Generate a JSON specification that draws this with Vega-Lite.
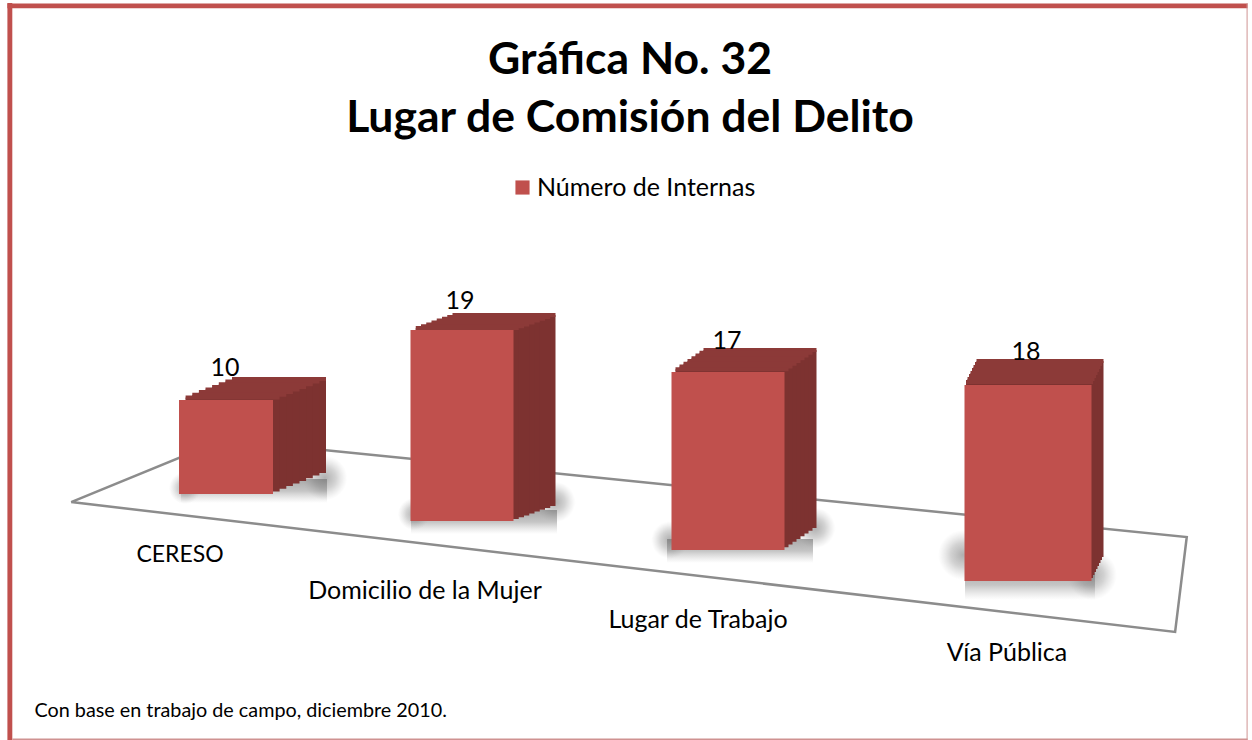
{"$schema":"https://vega.github.io/schema/vega-lite/v6.json","width":1252,"height":740,"padding":0,"autosize":{"type":"none"},"background":"white","view":{"stroke":null},"config":{"font":"Lato"},
"title":{"text":["Gráfica No. 32","Lugar de Comisión del Delito"],"font":"Lato","fontSize":44.5,"fontWeight":"bold","color":"#000","anchor":"middle","frame":"group","baseline":"top","offset":0,"dy":141,"dx":4,"lineHeight":58},
"data":{"values":[{"orden":1,"lugar":"CERESO","internas":10},{"orden":2,"lugar":"Domicilio de la Mujer","internas":19},{"orden":3,"lugar":"Lugar de Trabajo","internas":17},{"orden":4,"lugar":"Vía Pública","internas":18}]},
"encoding":{"x":{"field":"orden","type":"quantitative","scale":{"domain":[0,1,2,3,4,5],"range":[0,226,462,728,1028,1252]},"axis":{"domain":false,"ticks":false,"labels":false,"grid":false,"title":"Con base en trabajo de campo, diciembre 2010.","titleX":34,"titleY":-30,"titleAlign":"left","titleBaseline":"middle","titleFont":"Lato","titleFontSize":19.8,"titleFontWeight":"normal","titleColor":"#000"}}},
"layer":[
{"layer":[
{"data":{"values":[{"punto":1,"px":0.301,"py":-0.85},{"punto":2,"px":4.67,"py":-13.49},{"punto":3,"px":4.723,"py":-4.25},{"punto":4,"px":0.987,"py":5.2},{"punto":5,"px":0.301,"py":-0.85}]},"mark":{"type":"line","stroke":"#8C8C8C","strokeWidth":2.5},"encoding":{"x":{"field":"px","type":"quantitative"},"y":{"field":"py","type":"quantitative","axis":null,"scale":{"domain":[-24,48],"range":[740,0],"zero":false,"nice":false}},"order":{"field":"punto","type":"quantitative"}}},
{"data":{"values":[{"x0":0.0133,"x1":0.0354,"y0":47.7,"y1":-24},{"x0":0.0133,"x1":5,"y0":47.65,"y1":47.2}]},"mark":{"type":"rect","color":"#C0504D"},"encoding":{"x":{"field":"x0","type":"quantitative"},"x2":{"field":"x1"},"y":{"field":"y0","type":"quantitative"},"y2":{"field":"y1"}}},
{"data":{"values":[{"x0":4.9955,"x1":5,"y0":47.7,"y1":-24},{"x0":0.0354,"x1":5,"y0":-23.86,"y1":-24}]},"mark":{"type":"rect","color":"#CF9291"},"encoding":{"x":{"field":"x0","type":"quantitative"},"x2":{"field":"x1"},"y":{"field":"y0","type":"quantitative"},"y2":{"field":"y1"}}}
]},
{"transform":[{"filter":"datum.orden==1"}],"encoding":{"y":{"field":"internas","type":"quantitative","axis":null,"scale":{"domain":[0,10],"range":[494,400],"zero":false,"nice":false}}},"layer":[
{"mark":{"type":"tick","orient":"horizontal","opacity":1,"color":{"gradient":"linear","x1":0,"y1":0,"x2":0,"y2":1,"stops":[{"offset":0,"color":"rgba(110,110,110,0.6)"},{"offset":0.5,"color":"rgba(110,110,110,0.4)"},{"offset":1,"color":"rgba(150,150,150,0)"}]},"size":146,"thickness":24,"xOffset":28,"yOffset":-3},"encoding":{"y":{"datum":0}}},
{"mark":{"type":"point","shape":"circle","filled":true,"opacity":1,"fill":{"gradient":"radial","stops":[{"offset":0,"color":"rgba(110,110,110,0.55)"},{"offset":0.5,"color":"rgba(110,110,110,0.3)"},{"offset":1,"color":"rgba(150,150,150,0)"}]},"size":1018,"xOffset":-41,"yOffset":-6},"encoding":{"y":{"datum":0}}},
{"mark":{"type":"point","shape":"circle","filled":true,"opacity":1,"fill":{"gradient":"radial","stops":[{"offset":0,"color":"rgba(110,110,110,0.55)"},{"offset":0.5,"color":"rgba(110,110,110,0.3)"},{"offset":1,"color":"rgba(150,150,150,0)"}]},"size":1963,"xOffset":99,"yOffset":-16},"encoding":{"y":{"datum":0}}},
{"mark":{"type":"bar","fill":"#7D3230","width":94,"xOffset":53,"yOffset":-21,"y2Offset":-21}},{"mark":{"type":"tick","orient":"horizontal","color":"#8C3A38","opacity":1,"size":94,"thickness":4,"xOffset":53,"yOffset":-21}},
{"mark":{"type":"bar","fill":"#7D3230","width":94,"xOffset":46.4,"yOffset":-18.4,"y2Offset":-18.4}},{"mark":{"type":"tick","orient":"horizontal","color":"#8C3A38","opacity":1,"size":94,"thickness":4,"xOffset":46.4,"yOffset":-18.4}},
{"mark":{"type":"bar","fill":"#7D3230","width":94,"xOffset":39.8,"yOffset":-15.8,"y2Offset":-15.8}},{"mark":{"type":"tick","orient":"horizontal","color":"#8C3A38","opacity":1,"size":94,"thickness":4,"xOffset":39.8,"yOffset":-15.8}},
{"mark":{"type":"bar","fill":"#7D3230","width":94,"xOffset":33.1,"yOffset":-13.1,"y2Offset":-13.1}},{"mark":{"type":"tick","orient":"horizontal","color":"#8C3A38","opacity":1,"size":94,"thickness":4,"xOffset":33.1,"yOffset":-13.1}},
{"mark":{"type":"bar","fill":"#7D3230","width":94,"xOffset":26.5,"yOffset":-10.5,"y2Offset":-10.5}},{"mark":{"type":"tick","orient":"horizontal","color":"#8C3A38","opacity":1,"size":94,"thickness":4,"xOffset":26.5,"yOffset":-10.5}},
{"mark":{"type":"bar","fill":"#7D3230","width":94,"xOffset":19.9,"yOffset":-7.9,"y2Offset":-7.9}},{"mark":{"type":"tick","orient":"horizontal","color":"#8C3A38","opacity":1,"size":94,"thickness":4,"xOffset":19.9,"yOffset":-7.9}},
{"mark":{"type":"bar","fill":"#7D3230","width":94,"xOffset":13.3,"yOffset":-5.3,"y2Offset":-5.3}},{"mark":{"type":"tick","orient":"horizontal","color":"#8C3A38","opacity":1,"size":94,"thickness":4,"xOffset":13.3,"yOffset":-5.3}},
{"mark":{"type":"bar","fill":"#7D3230","width":94,"xOffset":6.6,"yOffset":-2.6,"y2Offset":-2.6}},{"mark":{"type":"tick","orient":"horizontal","color":"#8C3A38","opacity":1,"size":94,"thickness":4,"xOffset":6.6,"yOffset":-2.6}},
{"mark":{"type":"bar","width":94},"encoding":{"color":{"datum":"Número de Internas","type":"nominal","scale":{"range":["#C0504D"]},"legend":{"orient":"none","legendX":510,"legendY":175,"title":null,"symbolType":"square","symbolSize":200,"symbolStrokeWidth":0,"labelFont":"Lato","labelFontSize":25,"labelColor":"#000","labelLimit":400,"labelOffset":2}}}},
{"mark":{"type":"text","fontSize":25,"font":"Lato","color":"#000","baseline":"middle","dx":-1,"dy":-32},"encoding":{"text":{"field":"internas","type":"quantitative"}}},
{"mark":{"type":"text","fontSize":23,"font":"Lato","color":"#000","baseline":"middle","dx":-46,"dy":61},"encoding":{"y":{"datum":0},"text":{"field":"lugar","type":"nominal"}}}
]},
{"transform":[{"filter":"datum.orden==2"}],"encoding":{"y":{"field":"internas","type":"quantitative","axis":null,"scale":{"domain":[0,19],"range":[521,330],"zero":false,"nice":false}}},"layer":[
{"mark":{"type":"tick","orient":"horizontal","opacity":1,"color":{"gradient":"linear","x1":0,"y1":0,"x2":0,"y2":1,"stops":[{"offset":0,"color":"rgba(110,110,110,0.6)"},{"offset":0.5,"color":"rgba(110,110,110,0.4)"},{"offset":1,"color":"rgba(150,150,150,0)"}]},"size":146,"thickness":24,"xOffset":22,"yOffset":1},"encoding":{"y":{"datum":0}}},
{"mark":{"type":"point","shape":"circle","filled":true,"opacity":1,"fill":{"gradient":"radial","stops":[{"offset":0,"color":"rgba(110,110,110,0.55)"},{"offset":0.5,"color":"rgba(110,110,110,0.3)"},{"offset":1,"color":"rgba(150,150,150,0)"}]},"size":1018,"xOffset":-48,"yOffset":-7},"encoding":{"y":{"datum":0}}},
{"mark":{"type":"point","shape":"circle","filled":true,"opacity":1,"fill":{"gradient":"radial","stops":[{"offset":0,"color":"rgba(110,110,110,0.55)"},{"offset":0.5,"color":"rgba(110,110,110,0.3)"},{"offset":1,"color":"rgba(150,150,150,0)"}]},"size":1662,"xOffset":93,"yOffset":-19},"encoding":{"y":{"datum":0}}},
{"mark":{"type":"bar","fill":"#7D3230","width":103,"xOffset":42,"yOffset":-15,"y2Offset":-15}},{"mark":{"type":"tick","orient":"horizontal","color":"#8C3A38","opacity":1,"size":103,"thickness":4,"xOffset":42,"yOffset":-15}},
{"mark":{"type":"bar","fill":"#7D3230","width":103,"xOffset":36.75,"yOffset":-13.1,"y2Offset":-13.1}},{"mark":{"type":"tick","orient":"horizontal","color":"#8C3A38","opacity":1,"size":103,"thickness":4,"xOffset":36.75,"yOffset":-13.1}},
{"mark":{"type":"bar","fill":"#7D3230","width":103,"xOffset":31.5,"yOffset":-11.3,"y2Offset":-11.3}},{"mark":{"type":"tick","orient":"horizontal","color":"#8C3A38","opacity":1,"size":103,"thickness":4,"xOffset":31.5,"yOffset":-11.3}},
{"mark":{"type":"bar","fill":"#7D3230","width":103,"xOffset":26.25,"yOffset":-9.4,"y2Offset":-9.4}},{"mark":{"type":"tick","orient":"horizontal","color":"#8C3A38","opacity":1,"size":103,"thickness":4,"xOffset":26.25,"yOffset":-9.4}},
{"mark":{"type":"bar","fill":"#7D3230","width":103,"xOffset":21,"yOffset":-7.5,"y2Offset":-7.5}},{"mark":{"type":"tick","orient":"horizontal","color":"#8C3A38","opacity":1,"size":103,"thickness":4,"xOffset":21,"yOffset":-7.5}},
{"mark":{"type":"bar","fill":"#7D3230","width":103,"xOffset":15.75,"yOffset":-5.6,"y2Offset":-5.6}},{"mark":{"type":"tick","orient":"horizontal","color":"#8C3A38","opacity":1,"size":103,"thickness":4,"xOffset":15.75,"yOffset":-5.6}},
{"mark":{"type":"bar","fill":"#7D3230","width":103,"xOffset":10.5,"yOffset":-3.8,"y2Offset":-3.8}},{"mark":{"type":"tick","orient":"horizontal","color":"#8C3A38","opacity":1,"size":103,"thickness":4,"xOffset":10.5,"yOffset":-3.8}},
{"mark":{"type":"bar","fill":"#7D3230","width":103,"xOffset":5.25,"yOffset":-1.9,"y2Offset":-1.9}},{"mark":{"type":"tick","orient":"horizontal","color":"#8C3A38","opacity":1,"size":103,"thickness":4,"xOffset":5.25,"yOffset":-1.9}},
{"mark":{"type":"bar","fill":"#C0504D","width":103}},
{"mark":{"type":"text","fontSize":25,"font":"Lato","color":"#000","baseline":"middle","dx":-2,"dy":-29},"encoding":{"text":{"field":"internas","type":"quantitative"}}},
{"mark":{"type":"text","fontSize":25,"font":"Lato","color":"#000","baseline":"middle","dx":-37,"dy":70},"encoding":{"y":{"datum":0},"text":{"field":"lugar","type":"nominal"}}}
]},
{"transform":[{"filter":"datum.orden==3"}],"encoding":{"y":{"field":"internas","type":"quantitative","axis":null,"scale":{"domain":[0,17],"range":[550,372],"zero":false,"nice":false}}},"layer":[
{"mark":{"type":"tick","orient":"horizontal","opacity":1,"color":{"gradient":"linear","x1":0,"y1":0,"x2":0,"y2":1,"stops":[{"offset":0,"color":"rgba(110,110,110,0.6)"},{"offset":0.5,"color":"rgba(110,110,110,0.4)"},{"offset":1,"color":"rgba(150,150,150,0)"}]},"size":146,"thickness":24,"xOffset":12,"yOffset":1},"encoding":{"y":{"datum":0}}},
{"mark":{"type":"point","shape":"circle","filled":true,"opacity":1,"fill":{"gradient":"radial","stops":[{"offset":0,"color":"rgba(110,110,110,0.55)"},{"offset":0.5,"color":"rgba(110,110,110,0.3)"},{"offset":1,"color":"rgba(150,150,150,0)"}]},"size":1385,"xOffset":-58,"yOffset":-10},"encoding":{"y":{"datum":0}}},
{"mark":{"type":"point","shape":"circle","filled":true,"opacity":1,"fill":{"gradient":"radial","stops":[{"offset":0,"color":"rgba(110,110,110,0.55)"},{"offset":0.5,"color":"rgba(110,110,110,0.3)"},{"offset":1,"color":"rgba(150,150,150,0)"}]},"size":1662,"xOffset":87,"yOffset":-22},"encoding":{"y":{"datum":0}}},
{"mark":{"type":"bar","fill":"#7D3230","width":113,"xOffset":32,"yOffset":-22,"y2Offset":-22}},{"mark":{"type":"tick","orient":"horizontal","color":"#8C3A38","opacity":1,"size":113,"thickness":4,"xOffset":32,"yOffset":-22}},
{"mark":{"type":"bar","fill":"#7D3230","width":113,"xOffset":28,"yOffset":-19.25,"y2Offset":-19.25}},{"mark":{"type":"tick","orient":"horizontal","color":"#8C3A38","opacity":1,"size":113,"thickness":4,"xOffset":28,"yOffset":-19.25}},
{"mark":{"type":"bar","fill":"#7D3230","width":113,"xOffset":24,"yOffset":-16.5,"y2Offset":-16.5}},{"mark":{"type":"tick","orient":"horizontal","color":"#8C3A38","opacity":1,"size":113,"thickness":4,"xOffset":24,"yOffset":-16.5}},
{"mark":{"type":"bar","fill":"#7D3230","width":113,"xOffset":20,"yOffset":-13.75,"y2Offset":-13.75}},{"mark":{"type":"tick","orient":"horizontal","color":"#8C3A38","opacity":1,"size":113,"thickness":4,"xOffset":20,"yOffset":-13.75}},
{"mark":{"type":"bar","fill":"#7D3230","width":113,"xOffset":16,"yOffset":-11,"y2Offset":-11}},{"mark":{"type":"tick","orient":"horizontal","color":"#8C3A38","opacity":1,"size":113,"thickness":4,"xOffset":16,"yOffset":-11}},
{"mark":{"type":"bar","fill":"#7D3230","width":113,"xOffset":12,"yOffset":-8.25,"y2Offset":-8.25}},{"mark":{"type":"tick","orient":"horizontal","color":"#8C3A38","opacity":1,"size":113,"thickness":4,"xOffset":12,"yOffset":-8.25}},
{"mark":{"type":"bar","fill":"#7D3230","width":113,"xOffset":8,"yOffset":-5.5,"y2Offset":-5.5}},{"mark":{"type":"tick","orient":"horizontal","color":"#8C3A38","opacity":1,"size":113,"thickness":4,"xOffset":8,"yOffset":-5.5}},
{"mark":{"type":"bar","fill":"#7D3230","width":113,"xOffset":4,"yOffset":-2.75,"y2Offset":-2.75}},{"mark":{"type":"tick","orient":"horizontal","color":"#8C3A38","opacity":1,"size":113,"thickness":4,"xOffset":4,"yOffset":-2.75}},
{"mark":{"type":"bar","fill":"#C0504D","width":113}},
{"mark":{"type":"text","fontSize":25,"font":"Lato","color":"#000","baseline":"middle","dx":-1,"dy":-31},"encoding":{"text":{"field":"internas","type":"quantitative"}}},
{"mark":{"type":"text","fontSize":25,"font":"Lato","color":"#000","baseline":"middle","dx":-30,"dy":70},"encoding":{"y":{"datum":0},"text":{"field":"lugar","type":"nominal"}}}
]},
{"transform":[{"filter":"datum.orden==4"}],"encoding":{"y":{"field":"internas","type":"quantitative","axis":null,"scale":{"domain":[0,18],"range":[581,385],"zero":false,"nice":false}}},"layer":[
{"mark":{"type":"tick","orient":"horizontal","opacity":1,"color":{"gradient":"linear","x1":0,"y1":0,"x2":0,"y2":1,"stops":[{"offset":0,"color":"rgba(110,110,110,0.6)"},{"offset":0.5,"color":"rgba(110,110,110,0.4)"},{"offset":1,"color":"rgba(150,150,150,0)"}]},"size":130,"thickness":30,"xOffset":2,"yOffset":4},"encoding":{"y":{"datum":0}}},
{"mark":{"type":"point","shape":"circle","filled":true,"opacity":1,"fill":{"gradient":"radial","stops":[{"offset":0,"color":"rgba(110,110,110,0.55)"},{"offset":0.5,"color":"rgba(110,110,110,0.3)"},{"offset":1,"color":"rgba(150,150,150,0)"}]},"size":2463,"xOffset":-65,"yOffset":-26},"encoding":{"y":{"datum":0}}},
{"mark":{"type":"point","shape":"circle","filled":true,"opacity":1,"fill":{"gradient":"radial","stops":[{"offset":0,"color":"rgba(110,110,110,0.55)"},{"offset":0.5,"color":"rgba(110,110,110,0.3)"},{"offset":1,"color":"rgba(150,150,150,0)"}]},"size":2463,"xOffset":64,"yOffset":-6},"encoding":{"y":{"datum":0}}},
{"mark":{"type":"bar","fill":"#7D3230","width":127,"xOffset":12,"yOffset":-24,"y2Offset":-24}},{"mark":{"type":"tick","orient":"horizontal","color":"#8C3A38","opacity":1,"size":127,"thickness":4,"xOffset":12,"yOffset":-24}},
{"mark":{"type":"bar","fill":"#7D3230","width":127,"xOffset":10.5,"yOffset":-21,"y2Offset":-21}},{"mark":{"type":"tick","orient":"horizontal","color":"#8C3A38","opacity":1,"size":127,"thickness":4,"xOffset":10.5,"yOffset":-21}},
{"mark":{"type":"bar","fill":"#7D3230","width":127,"xOffset":9,"yOffset":-18,"y2Offset":-18}},{"mark":{"type":"tick","orient":"horizontal","color":"#8C3A38","opacity":1,"size":127,"thickness":4,"xOffset":9,"yOffset":-18}},
{"mark":{"type":"bar","fill":"#7D3230","width":127,"xOffset":7.5,"yOffset":-15,"y2Offset":-15}},{"mark":{"type":"tick","orient":"horizontal","color":"#8C3A38","opacity":1,"size":127,"thickness":4,"xOffset":7.5,"yOffset":-15}},
{"mark":{"type":"bar","fill":"#7D3230","width":127,"xOffset":6,"yOffset":-12,"y2Offset":-12}},{"mark":{"type":"tick","orient":"horizontal","color":"#8C3A38","opacity":1,"size":127,"thickness":4,"xOffset":6,"yOffset":-12}},
{"mark":{"type":"bar","fill":"#7D3230","width":127,"xOffset":4.5,"yOffset":-9,"y2Offset":-9}},{"mark":{"type":"tick","orient":"horizontal","color":"#8C3A38","opacity":1,"size":127,"thickness":4,"xOffset":4.5,"yOffset":-9}},
{"mark":{"type":"bar","fill":"#7D3230","width":127,"xOffset":3,"yOffset":-6,"y2Offset":-6}},{"mark":{"type":"tick","orient":"horizontal","color":"#8C3A38","opacity":1,"size":127,"thickness":4,"xOffset":3,"yOffset":-6}},
{"mark":{"type":"bar","fill":"#7D3230","width":127,"xOffset":1.5,"yOffset":-3,"y2Offset":-3}},{"mark":{"type":"tick","orient":"horizontal","color":"#8C3A38","opacity":1,"size":127,"thickness":4,"xOffset":1.5,"yOffset":-3}},
{"mark":{"type":"bar","fill":"#C0504D","width":127}},
{"mark":{"type":"text","fontSize":25,"font":"Lato","color":"#000","baseline":"middle","dx":-2,"dy":-33},"encoding":{"text":{"field":"internas","type":"quantitative"}}},
{"mark":{"type":"text","fontSize":25,"font":"Lato","color":"#000","baseline":"middle","dx":-21,"dy":72},"encoding":{"y":{"datum":0},"text":{"field":"lugar","type":"nominal"}}}
]}
],
"resolve":{"scale":{"y":"independent"}}}
